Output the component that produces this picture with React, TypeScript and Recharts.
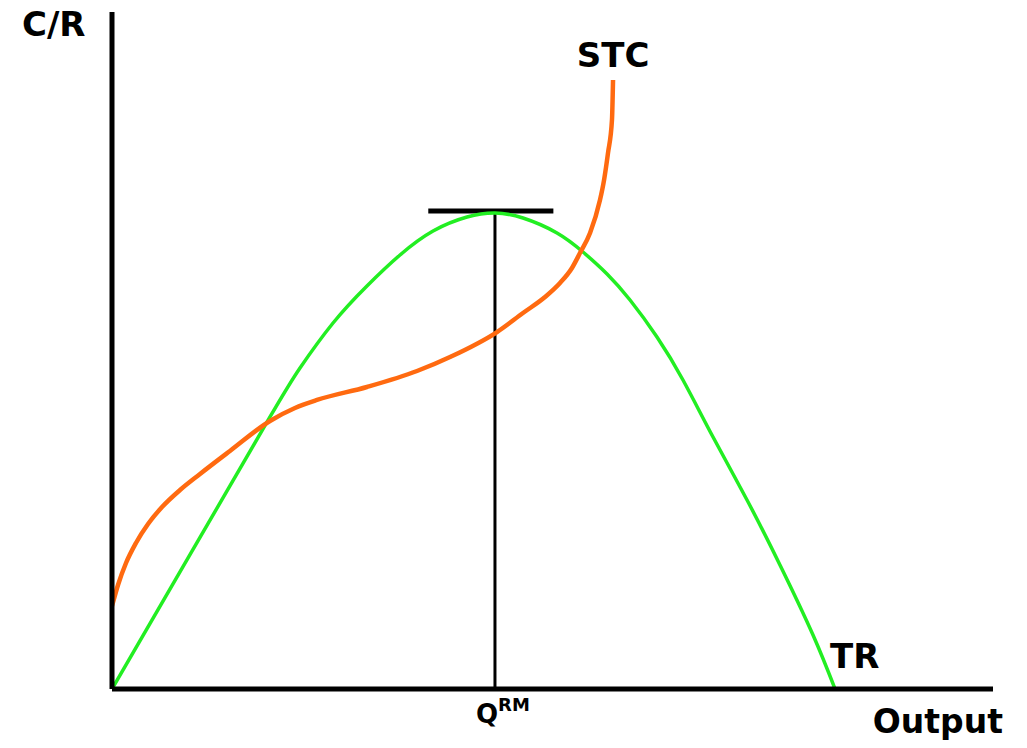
import React from 'react';
import { LineChart, Line, XAxis, YAxis, ReferenceLine, Label } from 'recharts';

// total revenue curve (output, revenue)
const trOutput = [0, 9.0, 17.93, 21.34, 25.09, 28.94, 32.69, 36.44, 40.3, 43.47, 46.65, 50.51, 53.46, 56.19, 58.8, 61.86, 64.81, 68.22, 72.08, 75.82, 79.57, 82.07];
const trRevenue = [0, 20.17, 40.18, 47.42, 54.06, 59.53, 64.11, 67.65, 69.72, 70.31, 69.57, 67.36, 64.55, 61.3, 57.46, 51.99, 45.64, 37.22, 27.92, 18.32, 7.98, 0];

// short-run total cost curve (output, cost)
const stcOutput = [0, 0.68, 1.59, 2.72, 4.09, 5.68, 7.72, 9.99, 13.39, 17.93, 20.77, 23.27, 28.94, 34.62, 38.37, 43.7, 46.65, 49.15, 50.85, 52.21, 53.12, 54.26, 55.39, 55.85, 56.3, 56.75, 56.87];
const stcCost = [12.26, 15.36, 18.61, 21.57, 24.37, 26.88, 29.39, 31.76, 35.16, 39.59, 41.51, 42.69, 44.61, 46.97, 49.04, 52.73, 55.54, 57.9, 59.97, 62.19, 64.4, 67.36, 72.23, 75.18, 79.17, 84.05, 89.96];

const QRM = 43.47;
const PEAK = 70.31;
const TANGENT_Y = 70.6;
const TANGENT_X = [35.9, 50.1];

const trData = trOutput.map((x, i) => ({ x, y: trRevenue[i] }));
const stcData = stcOutput.map((x, i) => ({ x, y: stcCost[i] }));

const FONT = '"DejaVu Sans", Verdana, sans-serif';
const GREEN = '#22ee22';
const ORANGE = '#ff6a10';

const QTick = ({ x, y }: any) => (
    <text x={x - 19} y={y + 26} fontFamily={FONT} fontWeight="bold" fill="#000">
        <tspan fontSize={26}>Q</tspan>
        <tspan fontSize={18} dy={-12}>RM</tspan>
    </text>
);

const endLabel = (text: string, last: number, dx: number, dy: number, anchor: string) => (props: any) => {
    if (props.index !== last) return <g />;
    return (
        <text x={props.x + dx} y={props.y + dy} textAnchor={anchor} fontFamily={FONT} fontWeight="bold" fontSize={34} fill="#000">
            {text}
        </text>
    );
};

export default function App() {
    return (
        <div style={{ position: 'absolute', left: 0, top: 0, background: '#fff' }}>
            <LineChart width={1027} height={748} margin={{ top: 12, right: 34, left: 111, bottom: 0 }}>
                <XAxis
                    type="number"
                    dataKey="x"
                    domain={[0, 100]}
                    ticks={[QRM]}
                    tick={<QTick />}
                    tickLine={false}
                    axisLine={{ stroke: '#000', strokeWidth: 5 }}
                    height={59}
                    allowDataOverflow
                >
                    <Label
                        content={({ viewBox }: any) => (
                            <text x={viewBox.x + viewBox.width + 10} y={viewBox.y + 44} textAnchor="end" fontFamily={FONT} fontWeight="bold" fontSize={33} fill="#000">
                                Output
                            </text>
                        )}
                    />
                </XAxis>
                <YAxis
                    type="number"
                    domain={[0, 100]}
                    width={1}
                    tick={false}
                    tickLine={false}
                    axisLine={{ stroke: '#000', strokeWidth: 5 }}
                    allowDataOverflow
                >
                    <Label
                        content={({ viewBox }: any) => (
                            <text x={viewBox.x - 89} y={viewBox.y + 24} fontFamily={FONT} fontWeight="bold" fontSize={34} fill="#000">
                                C/R
                            </text>
                        )}
                    />
                </YAxis>
                <ReferenceLine segment={[{ x: QRM, y: 0 }, { x: QRM, y: PEAK }]} stroke="#000" strokeWidth={3} />
                <ReferenceLine segment={[{ x: TANGENT_X[0], y: TANGENT_Y }, { x: TANGENT_X[1], y: TANGENT_Y }]} stroke="#000" strokeWidth={5} />
                <Line
                    data={trData}
                    dataKey="y"
                    type="natural"
                    stroke={GREEN}
                    strokeWidth={3.5}
                    dot={false}
                    isAnimationActive={false}
                    label={endLabel('TR', trData.length - 1, -5, -21, 'start')}
                />
                <Line
                    data={stcData}
                    dataKey="y"
                    type="monotone"
                    stroke={ORANGE}
                    strokeWidth={4.5}
                    dot={false}
                    isAnimationActive={false}
                    label={endLabel('STC', stcData.length - 1, 0, -13, 'middle')}
                />
            </LineChart>
        </div>
    );
}
